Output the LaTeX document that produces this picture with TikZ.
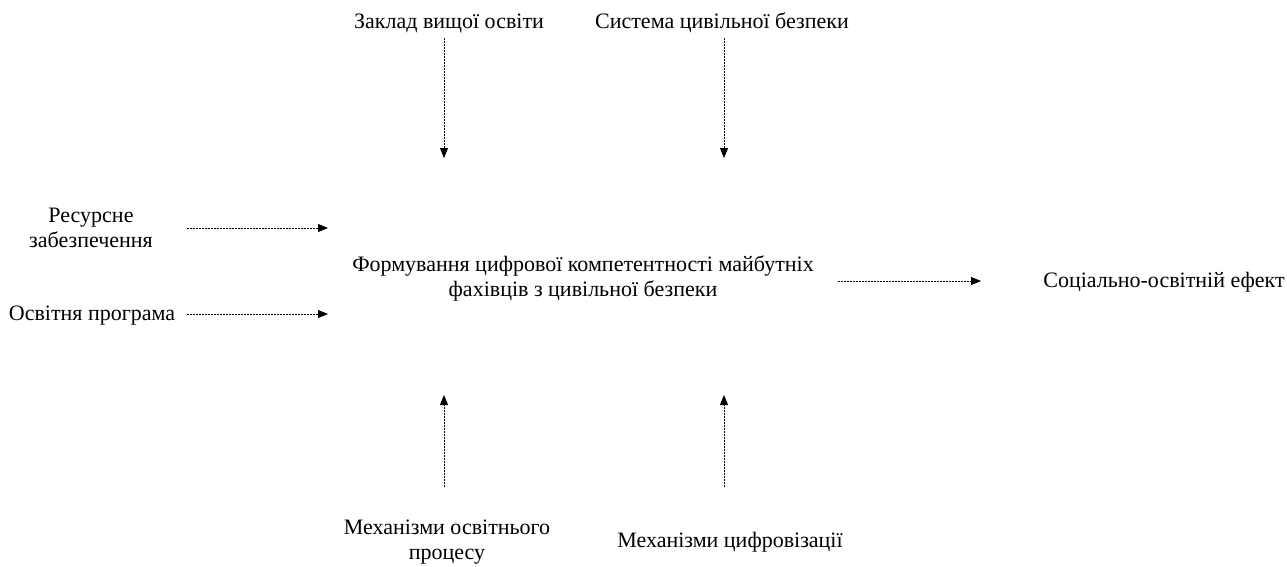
\documentclass[tikz,border=0pt]{standalone}
\usepackage{fontspec}
\setmainfont{Liberation Serif}
\usetikzlibrary{arrows.meta}
\begin{document}
\begin{tikzpicture}[x=1pt,y=-1pt,
  lbl/.style={inner sep=0pt,align=center,font=\fontsize{22}{25}\selectfont},
  conn/.style={line width=0.8pt,dash pattern=on 2pt off 1pt,-{Triangle[length=10pt,width=8pt]}}]
\useasboundingbox (0,0) rectangle (1287,566);
\node[lbl] (zvo) at (449,23) {Заклад вищої освіти};
\node[lbl] (scb) at (722,23) {Система цивільної безпеки};
\node[lbl] (res) at (91,228) {Ресурсне\\забезпечення};
\node[lbl] (op) at (92,316) {Освітня програма};
\node[lbl] (main) at (583,278) {Формування цифрової компетентності майбутніх\\фахівців з цивільної безпеки};
\node[lbl] (eff) at (1164,282) {Соціально-освітній ефект};
\node[lbl] (mop) at (447,542) {Механізми освітнього\\процесу};
\node[lbl] (mc) at (730,542) {Механізми цифровізації};

\coordinate (a1s) at (444,38);  \coordinate (a1e) at (444,158);
\coordinate (a2s) at (724,38);  \coordinate (a2e) at (724,158);
\coordinate (a3s) at (187,228); \coordinate (a3e) at (328,228);
\coordinate (a4s) at (187,314); \coordinate (a4e) at (328,314);
\coordinate (a5s) at (838,281); \coordinate (a5e) at (981,281);
\coordinate (a6s) at (444,487); \coordinate (a6e) at (444,395);
\coordinate (a7s) at (724,487); \coordinate (a7e) at (724,395);

\draw[conn] (a1s) -- (a1e);
\draw[conn] (a2s) -- (a2e);
\draw[conn] (a3s) -- (a3e);
\draw[conn] (a4s) -- (a4e);
\draw[conn] (a5s) -- (a5e);
\draw[conn] (a6s) -- (a6e);
\draw[conn] (a7s) -- (a7e);
\end{tikzpicture}
\end{document}
